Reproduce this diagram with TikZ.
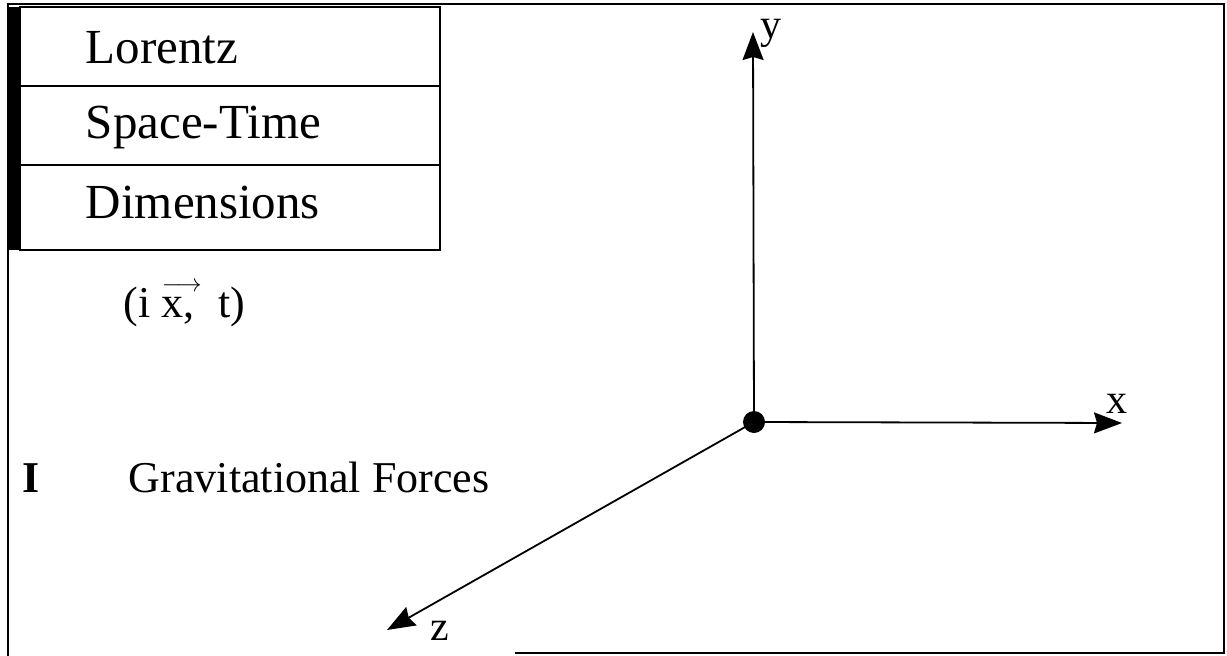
\documentclass[tikz,border=0pt]{standalone}
\usepackage{fontspec}
\setmainfont{Liberation Serif}
\usetikzlibrary{arrows.meta}
\tikzset{>={Stealth[length=28pt,width=21pt,inset=3pt]}}
\tikzset{
  rowtext/.style={anchor=base west,inner sep=0pt,font=\fontsize{49}{58}\selectfont},
  plaintext/.style={anchor=base west,inner sep=0pt,font=\fontsize{44}{52}\selectfont},
  axislabel/.style={anchor=base west,inner sep=0pt,font=\fontsize{42}{50}\selectfont}}
\newcommand{\vecx}{\makebox[0pt][l]{\raisebox{26pt}{$\scriptstyle\longrightarrow$}}x}

\begin{document}
\begin{tikzpicture}[x=1pt,y=-1pt,line width=1.8pt]
  \useasboundingbox (0,0) rectangle (1227,656);
  % Outer frame
  \draw[line width=2.8pt] (515,653) -- (1224,653) -- (1224,4) -- (8,4) -- (8,656);
  % Table of the three rows with its dark left bar
  \fill (7,7) rectangle (20,250);
  \foreach \txt/\top/\bot/\base [count=\i] in
      {Lorentz/7/86/63, Space-Time/86/165/138, Dimensions/165/250/218} {
    \draw (20,\top) rectangle (440,\bot);
    \node[rowtext] (row\i) at (85,\base) {\txt}; }
  % Coordinates and force label
  \node[plaintext] (coords) at (123,317) {(i\hspace{11pt}\vecx,\hspace{24pt}t)};
  \node[plaintext] (roman) at (22,492) {\textbf{I}};
  \node[plaintext] (grav) at (128,492) {Gravitational Forces};
  % Axes
  \node[circle,fill,inner sep=0pt,minimum size=22pt] (origin) at (754,422) {};
  \coordinate (ytip) at (753,32);
  \coordinate (xtip) at (1122,423);
  \coordinate (ztip) at (387,630);
  \draw[->] (origin.center) -- (ytip);
  \draw[->] (origin.center) -- (xtip);
  \draw[->] (origin.center) -- (ztip);
  \node[axislabel] (ylabel) at (760,38) {y};
  \node[axislabel] (xlabel) at (1106,413) {x};
  \node[axislabel] (zlabel) at (430,640) {z};
\end{tikzpicture}
\end{document}
